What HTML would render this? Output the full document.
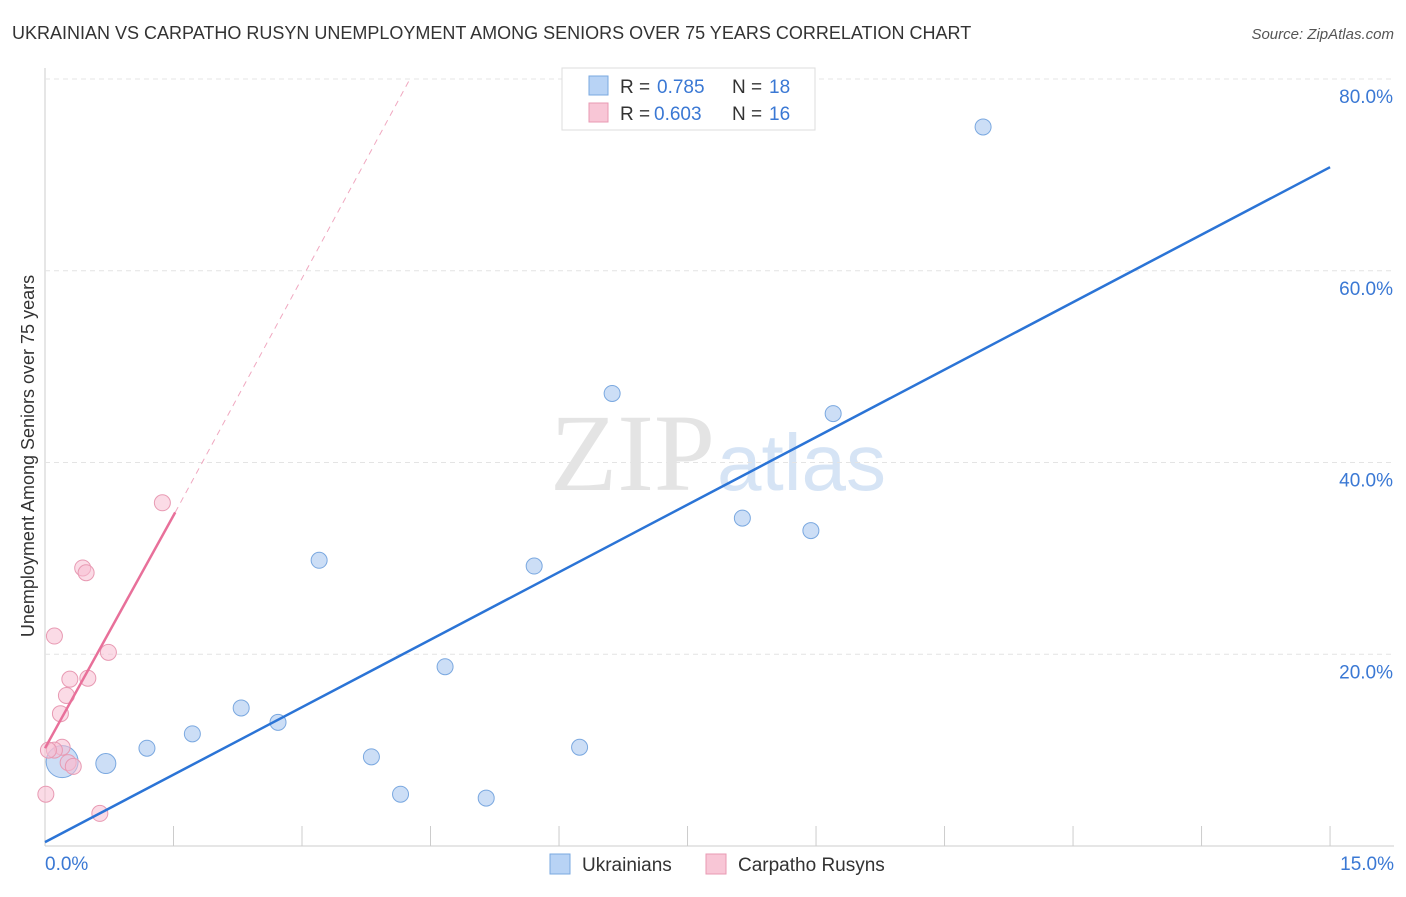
<!DOCTYPE html>
<html><head><meta charset="utf-8"><style>
body{margin:0;background:#fff;font-family:"Liberation Sans",sans-serif;}
</style></head><body>
<svg id="chart" width="1406" height="892" xmlns="http://www.w3.org/2000/svg" font-family="Liberation Sans, sans-serif">
<text x="12" y="39" font-size="18" fill="#333">UKRAINIAN VS CARPATHO RUSYN UNEMPLOYMENT AMONG SENIORS OVER 75 YEARS CORRELATION CHART</text>
<text x="1394" y="39" font-size="15" fill="#555" text-anchor="end" font-style="italic">Source: ZipAtlas.com</text>
<text x="715" y="490" font-size="110" fill="#e4e4e4" text-anchor="end" font-family="Liberation Serif, serif">ZIP</text>
<text x="717" y="490" font-size="80" fill="#d6e4f5">atlas</text>
<g id="grid"></g><g id="marks"></g>
<text transform="translate(34,456) rotate(-90)" font-size="18" fill="#333" text-anchor="middle">Unemployment Among Seniors over 75 years</text>
<g>
<rect x="562" y="68" width="253" height="62" fill="#fff" stroke="#ddd"/>
<rect x="589" y="76" width="19" height="19" fill="#b8d3f5" stroke="#7aa8e0"/>
<rect x="589" y="103" width="19" height="19" fill="#f8c6d6" stroke="#e89ab3"/>
<text x="620" y="93" font-size="19" fill="#333">R =</text>
<text x="657" y="93" font-size="19" fill="#3a78d4">0.785</text>
<text x="732" y="93" font-size="19" fill="#333">N =</text>
<text x="769" y="93" font-size="19" fill="#3a78d4">18</text>
<text x="620" y="120" font-size="19" fill="#333">R =</text>
<text x="654" y="120" font-size="19" fill="#3a78d4">0.603</text>
<text x="732" y="120" font-size="19" fill="#333">N =</text>
<text x="769" y="120" font-size="19" fill="#3a78d4">16</text>
</g>
<g>
<rect x="550" y="854" width="20" height="20" fill="#b8d3f5" stroke="#7aa8e0"/>
<text x="582" y="871" font-size="19" fill="#333">Ukrainians</text>
<rect x="706" y="854" width="20" height="20" fill="#f8c6d6" stroke="#e89ab3"/>
<text x="738" y="871" font-size="19" fill="#333">Carpatho Rusyns</text>
</g>
</svg>
<script>
const blueX=[10.95,6.62,9.2,8.14,8.94,5.71,3.2,4.67,2.29,2.72,1.72,1.19,6.24,3.81,0.71,0.2,4.15,5.15];
const blueY=[75,47.2,45.1,34.2,32.9,29.2,29.8,18.7,14.4,12.9,11.7,10.2,10.3,9.3,8.6,8.8,5.4,5];
const blueR=[8,8,8,8,8,8,8,8,8,8,8,8,8,8,10,16,8,8];
const pinkX=[1.37,0.44,0.48,0.11,0.74,0.29,0.5,0.25,0.18,0.2,0.11,0.04,0.27,0.33,0.01,0.64];
const pinkY=[35.8,29,28.5,21.9,20.2,17.4,17.5,15.7,13.8,10.3,10,10,8.7,8.3,5.4,3.4];
const xTicks=[0,1.5,3,4.5,6,7.5,9,10.5,12,13.5,15];
const yTicks=[20,40,60,80];
const blueFit=[[0,0.4],[15,70.8]];
const pinkFit=[[0,10.2],[1.52,34.8]];
const pinkDash=[[1.52,34.8],[4.26,80]];
const X=v=>45+v*85.67, Y=v=>846-v*9.5875;
const NS="http://www.w3.org/2000/svg";
function mk(t,a,p){const e=document.createElementNS(NS,t);for(const k in a)e.setAttribute(k,a[k]);p.appendChild(e);return e;}
const g=document.getElementById('grid'),m=document.getElementById('marks');
mk('line',{x1:45,y1:68,x2:45,y2:846,stroke:'#ccc'},g);
mk('line',{x1:45,y1:846,x2:1394,y2:846,stroke:'#ccc'},g);
yTicks.forEach(v=>{
const l=mk('line',{x1:45,y1:Y(v),x2:1394,y2:Y(v),stroke:'#e4e4e4','stroke-dasharray':'5,4'},g);


const t=mk('text',{x:1393,y:Y(v)+24,'font-size':19,fill:'#3a78d4','text-anchor':'end'},g);t.textContent=v.toFixed(1)+'%';


});
xTicks.forEach((v,i)=>{if(i>0){const l=mk('line',{x1:X(v),y1:826,x2:X(v),y2:846,stroke:'#ccc'},g);

}});
[[0,'0.0%','start',45],[15,'15.0%','end',1394]].forEach(([v,s,a,x])=>{const t=mk('text',{x:x,y:870,'font-size':19,fill:'#3a78d4','text-anchor':a},g);t.textContent=s;

});
blueX.forEach((v,i)=>{const c=mk('circle',{cx:X(v),cy:Y(blueY[i]),r:blueR[i],fill:'rgba(170,200,240,0.6)',stroke:'#7aa8e0','stroke-width':1},m);

});
pinkX.forEach((v,i)=>{const c=mk('circle',{cx:X(v),cy:Y(pinkY[i]),r:8,fill:'rgba(248,190,210,0.55)',stroke:'#e89ab3','stroke-width':1},m);

});
let l=mk('line',{x1:X(blueFit[0][0]),y1:Y(blueFit[0][1]),x2:X(blueFit[1][0]),y2:Y(blueFit[1][1]),stroke:'#2b74d6','stroke-width':2.5},m);


l=mk('line',{x1:X(pinkFit[0][0]),y1:Y(pinkFit[0][1]),x2:X(pinkFit[1][0]),y2:Y(pinkFit[1][1]),stroke:'#e8709a','stroke-width':2.5},m);


l=mk('line',{x1:X(pinkDash[0][0]),y1:Y(pinkDash[0][1]),x2:X(pinkDash[1][0]),y2:Y(pinkDash[1][1]),stroke:'#f0a8c0','stroke-width':1,'stroke-dasharray':'6,5'},m);


</script>
</body></html>
